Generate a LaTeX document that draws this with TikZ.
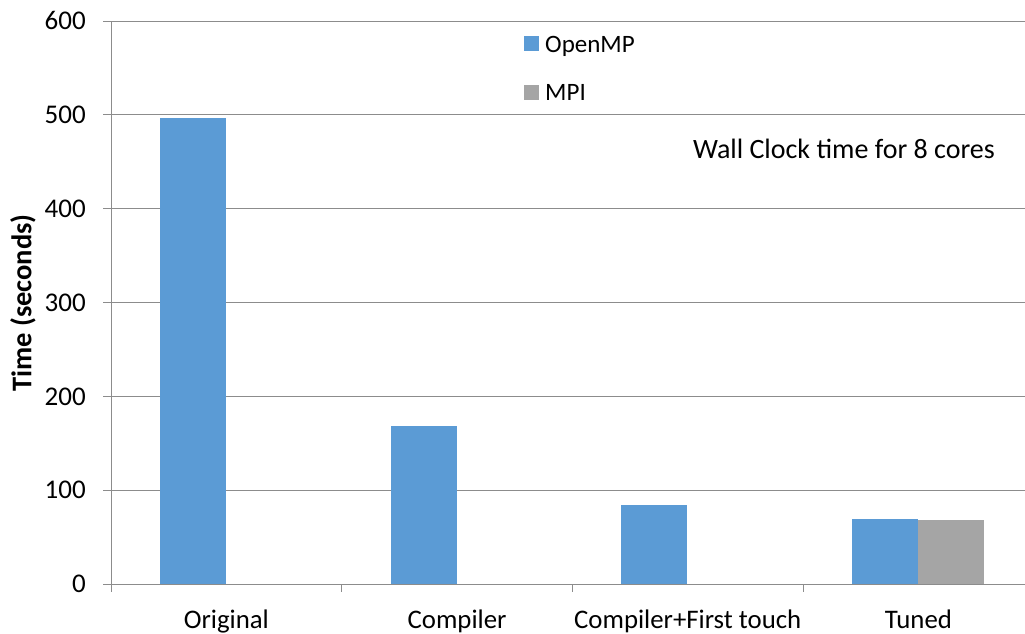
\documentclass[tikz,border=0pt]{standalone}
\usepackage{fontspec}
\setmainfont{Carlito}

\definecolor{ompblue}{HTML}{5B9BD5}
\definecolor{mpigray}{HTML}{A5A5A5}
\definecolor{gridgray}{HTML}{8C8C8C}

\begin{document}
\begin{tikzpicture}[x=1pt, y=-1pt, font=\fontsize{25}{30}\selectfont]

\useasboundingbox (0,0) rectangle (1025,633);

% ── Gridlines and y ticks ──
\foreach \v [evaluate=\v as \yy using 584-\v*0.93833] in {0,100,...,600} {
    \draw[gridgray, line width=1pt] (103, \yy) -- (1025, \yy);
    \node[anchor=base east, inner sep=0, font=\fontsize{27}{32}\selectfont] (ylab\v) at (86, \yy+8.7) {\v};
}

% ── Axes ──
\draw[gridgray, line width=1pt] (111, 21) -- (111, 592);
\foreach \i in {1,2,3} {
    \draw[gridgray, line width=1pt] (111+\i*230.7, 584) -- ++(0, 8);
}
\node[rotate=90, font=\fontsize{28.5}{34}\selectfont\bfseries] (ytitle) at (23, 303) {Time (seconds)};

% ── OpenMP bars and category labels ──
\foreach \i/\name/\val in {0/Original/497, 1/Compiler/168, 2/{Compiler+First touch}/84, 3/Tuned/69.5} {
    \fill[ompblue] ({111+\i*230.7+49}, 584) rectangle ++(66, {-\val*0.93833});
    \node[anchor=base, inner sep=0, font=\fontsize{26.8}{32}\selectfont] (cat\i) at ({111+\i*230.7+115.35}, 628) {\name};
}

% ── MPI bar ──
\fill[mpigray] (918.1, 584) rectangle (984.1, 520.2);

% ── Legend ──
\fill[ompblue] (524, 36) rectangle (539, 51);
\node[anchor=base west, inner sep=0] (lgomp) at (545, 52) {OpenMP};
\fill[mpigray] (524, 85) rectangle (539, 100);
\node[anchor=base west, inner sep=0] (lgmpi) at (545, 100) {MPI};

% ── Note ──
\node[anchor=base east, inner sep=0, font=\fontsize{28}{34}\selectfont] (note) at (995, 158) {Wall Clock time for 8 cores};

\end{tikzpicture}
\end{document}
